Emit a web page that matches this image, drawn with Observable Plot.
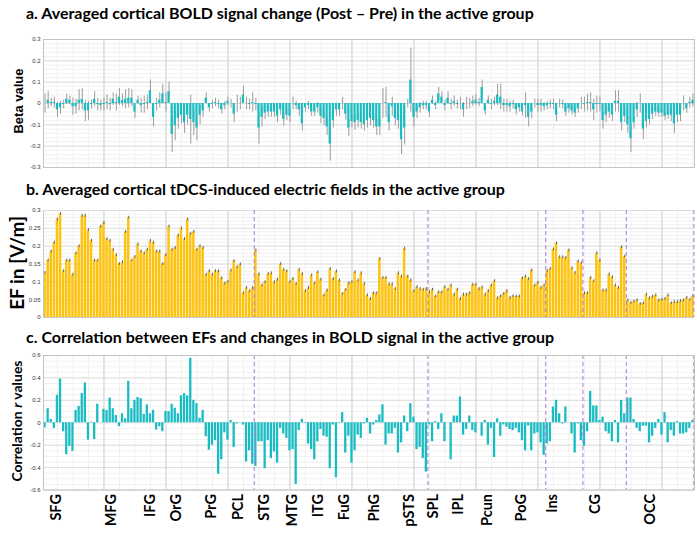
<!DOCTYPE html>
<html><head><meta charset="utf-8">
<script src="https://cdn.jsdelivr.net/npm/d3@7"></script>
<script src="https://cdn.jsdelivr.net/npm/@observablehq/plot@0.6"></script>
<style>
body{margin:0;background:#fff;width:697px;height:536px;position:relative;overflow:hidden;font-family:Lato,"Open Sans",sans-serif}
.title{position:absolute;left:26px;font-weight:700;font-size:16px;white-space:nowrap;color:#000;line-height:1}
.ylab{position:absolute;font-weight:700;white-space:nowrap;transform:translate(-50%,-50%) rotate(-90deg);color:#000;line-height:1}
.panel{position:absolute;left:0}
</style></head><body>
<script>
// ---------- data ----------
const betaChange = [
0.0,0.015,0.005,0.005,-0.03,-0.02,-0.005,0.02,0.015,-0.015,
-0.015,0.015,0.02,-0.035,-0.035,-0.005,0.02,-0.005,-0.01,-0.005,
0.005,-0.005,0.02,0.005,0.03,0.015,0.02,0.025,0.025,-0.04,
0.015,-0.01,-0.005,0.005,0.06,-0.065,-0.005,0.015,0.045,0.005,
0.055,-0.145,-0.105,-0.07,-0.055,-0.09,-0.055,-0.075,-0.09,-0.115,
-0.055,-0.035,0.025,-0.02,-0.005,0.005,-0.005,-0.03,-0.01,0.01,
0.0,-0.05,0.0,0.0,0.04,0.0,-0.005,0.005,-0.005,-0.115,
-0.065,-0.045,-0.04,-0.04,-0.04,-0.06,-0.03,-0.075,-0.055,-0.06,
0.0,-0.01,-0.03,-0.095,-0.02,-0.01,-0.04,-0.04,-0.02,-0.06,
-0.07,-0.11,-0.19,-0.08,-0.03,-0.03,0.0,-0.05,-0.115,-0.085,
-0.09,-0.08,-0.09,-0.1,-0.08,-0.07,-0.08,-0.11,-0.11,0.0,
0.005,-0.09,-0.015,-0.07,-0.08,-0.17,-0.115,0.0,0.11,-0.065,
-0.04,-0.02,-0.01,-0.01,-0.04,0.015,-0.01,0.045,0.03,-0.01,
0.025,-0.005,0.01,-0.005,0.0,-0.03,0.0,0.0,0.01,0.015,
0.005,0.075,-0.035,0.015,-0.005,0.01,0.04,0.03,-0.01,-0.01,
-0.015,-0.005,-0.03,-0.02,-0.04,-0.01,-0.065,-0.04,0.0,-0.01,
-0.01,-0.015,-0.01,-0.005,-0.005,-0.055,0.0,-0.005,-0.04,-0.025,
-0.035,-0.045,-0.025,0.0,-0.005,0.005,0.005,-0.03,-0.005,-0.005,
-0.08,-0.055,-0.04,-0.055,0.01,0.01,-0.09,-0.06,-0.1,-0.165,
-0.09,-0.03,0.0,-0.12,-0.085,-0.075,-0.05,-0.04,-0.045,-0.045,
-0.06,-0.055,-0.055,-0.095,-0.055,-0.055,0.0,-0.025,0.005,0.015];
const betaError = [
0.045,0.04,0.02,0.025,0.035,0.03,0.02,0.025,0.02,0.04,
0.035,0.05,0.05,0.05,0.045,0.02,0.035,0.03,0.025,0.03,
0.035,0.03,0.03,0.04,0.04,0.03,0.045,0.045,0.04,0.03,
0.02,0.035,0.04,0.035,0.05,0.045,0.03,0.035,0.045,0.045,
0.045,0.085,0.07,0.05,0.04,0.05,0.045,0.115,0.06,0.06,
0.045,0.03,0.025,0.02,0.02,0.02,0.02,0.02,0.02,0.02,
0.02,0.04,0.04,0.03,0.04,0.03,0.025,0.045,0.03,0.075,
0.045,0.03,0.025,0.025,0.025,0.03,0.025,0.03,0.025,0.03,
0.03,0.02,0.03,0.035,0.02,0.02,0.02,0.02,0.025,0.035,
0.035,0.04,0.08,0.035,0.03,0.03,0.03,0.03,0.04,0.03,
0.035,0.035,0.03,0.03,0.035,0.035,0.035,0.04,0.04,0.07,
0.07,0.04,0.045,0.035,0.04,0.07,0.08,0.02,0.15,0.045,
0.03,0.025,0.02,0.02,0.025,0.02,0.02,0.03,0.025,0.025,
0.03,0.025,0.025,0.02,0.03,0.035,0.03,0.025,0.025,0.025,
0.02,0.035,0.02,0.02,0.025,0.02,0.05,0.06,0.03,0.03,
0.025,0.02,0.025,0.02,0.02,0.06,0.045,0.03,0.02,0.03,
0.03,0.02,0.02,0.02,0.025,0.03,0.02,0.02,0.02,0.02,
0.02,0.02,0.02,0.03,0.035,0.04,0.045,0.05,0.04,0.035,
0.04,0.035,0.03,0.03,0.05,0.05,0.04,0.03,0.04,0.065,
0.03,0.035,0.045,0.05,0.03,0.025,0.025,0.02,0.02,0.02,
0.02,0.02,0.03,0.045,0.035,0.03,0.035,0.02,0.025,0.03];
const efValues = [
0.125,0.16,0.185,0.21,0.275,0.29,0.13,0.16,0.16,0.12,
0.18,0.2,0.285,0.285,0.245,0.215,0.16,0.16,0.255,0.265,
0.22,0.215,0.19,0.175,0.15,0.155,0.24,0.28,0.16,0.17,
0.205,0.185,0.18,0.19,0.215,0.21,0.185,0.185,0.15,0.175,
0.255,0.19,0.195,0.23,0.25,0.22,0.275,0.235,0.24,0.19,
0.2,0.195,0.12,0.13,0.12,0.13,0.13,0.11,0.095,0.1,
0.132,0.158,0.141,0.149,0.068,0.083,0.074,0.083,0.188,0.121,
0.090,0.099,0.122,0.124,0.099,0.106,0.150,0.134,0.130,0.099,
0.108,0.094,0.134,0.122,0.074,0.083,0.118,0.096,0.127,0.106,
0.062,0.076,0.136,0.108,0.129,0.104,0.066,0.078,0.096,0.099,
0.127,0.104,0.124,0.094,0.062,0.052,0.068,0.068,0.164,0.111,
0.111,0.093,0.093,0.080,0.124,0.115,0.193,0.115,0.104,0.074,
0.085,0.080,0.078,0.080,0.071,0.078,0.059,0.071,0.071,0.085,
0.078,0.090,0.064,0.078,0.052,0.064,0.064,0.068,0.092,0.092,
0.080,0.084,0.064,0.074,0.090,0.102,0.054,0.060,0.066,0.074,
0.055,0.060,0.059,0.059,0.110,0.115,0.108,0.132,0.090,0.097,
0.083,0.090,0.130,0.136,0.191,0.208,0.169,0.169,0.167,0.188,
0.138,0.125,0.157,0.152,0.068,0.068,0.111,0.102,0.180,0.160,
0.076,0.076,0.121,0.113,0.090,0.083,0.197,0.171,0.048,0.041,
0.045,0.048,0.038,0.040,0.064,0.054,0.059,0.062,0.048,0.050,
0.052,0.062,0.040,0.043,0.043,0.046,0.048,0.055,0.050,0.060];
const corrValues = [
-0.045,0.125,0.03,-0.05,0.245,0.39,-0.08,-0.285,-0.21,-0.255,
0.11,0.145,0.26,0.355,-0.155,0.005,-0.15,0.165,0.0,0.12,
0.11,0.22,0.125,0.065,-0.035,0.08,0.035,0.37,0.125,0.2,
0.225,0.215,0.075,0.16,0.08,0.11,-0.065,-0.035,-0.08,0.10,
0.10,0.165,0.13,0.08,0.24,0.26,0.24,0.575,0.2,0.17,
0.04,0.11,-0.125,-0.245,-0.2,-0.16,-0.46,-0.33,-0.09,-0.155,
0.02,-0.22,-0.01,0.0,-0.02,-0.35,-0.25,-0.37,-0.39,-0.17,
-0.17,-0.41,-0.16,-0.32,-0.26,-0.36,-0.05,-0.10,-0.14,-0.25,
-0.24,-0.55,-0.07,0.03,-0.005,-0.19,-0.24,-0.33,-0.17,-0.06,
-0.12,-0.13,-0.41,-0.02,-0.49,-0.005,0.09,-0.27,-0.12,-0.36,
-0.25,-0.11,-0.14,-0.01,0.04,-0.10,-0.02,0.02,0.07,0.16,
-0.2,-0.1,-0.1,-0.05,-0.27,-0.18,0.06,-0.08,0.17,0.05,
-0.24,-0.22,-0.32,-0.44,-0.02,-0.17,0.01,-0.06,0.08,-0.17,
0.0,-0.33,0.06,0.06,0.23,-0.11,-0.06,0.06,-0.07,-0.09,
0.0,-0.12,0.02,-0.2,-0.05,-0.31,0.035,-0.12,-0.02,-0.04,
-0.06,-0.07,-0.05,-0.09,-0.16,-0.25,-0.03,-0.25,-0.1,-0.09,
-0.18,-0.29,-0.19,-0.17,0.14,0.20,0.08,-0.01,0.14,0.0,
-0.10,-0.27,-0.01,-0.16,-0.21,-0.08,0.28,0.15,0.15,0.02,
0.05,-0.08,-0.10,-0.17,0.02,-0.18,0.2,0.08,0.22,0.22,
0.03,-0.05,-0.08,-0.03,-0.03,-0.18,-0.12,-0.05,0.03,-0.11,
0.09,-0.18,-0.07,-0.12,0.01,-0.1,-0.1,-0.09,-0.05,0.02];
const gyrusLabels = ["SFG","MFG","IFG","OrG","PrG","PCL","STG","MTG","ITG","FuG","PhG","pSTS","SPL","IPL","Pcun","PoG","Ins","CG","OCC"];
const gyrusLabelPos = [6.0,24.0,36.6,45.0,56.0,64.7,73.4,82.4,90.8,99.2,108.6,119.9,127.9,135.7,145.3,156.0,166.3,179.9,197.6];
const lobeBoundaries = [68.5,124.5,162.5,174.5,188.5,210.3];
const ticksA = [-0.3,-0.2,-0.1,0,0.1,0.2,0.3];
const ticksB = [0,0.05,0.1,0.15,0.2,0.25,0.3];
const ticksC = [-0.6,-0.4,-0.2,0,0.2,0.4,0.6];
const xMajor = [20,40,60,80,100,120,140,160,180,200];

// ---------- layout ----------
const W = 697, ML = 43, MR = 3;
const xDomain = [0.5, 210.5];
const regions = d3.range(1, betaChange.length + 1);
const xMinor = d3.range(5, 211, 5);
const teal = "#19bcc2", gold = "#fdc30f", dashCol = "#b98bd8";
const fmt = d => String(d);

function grid(minorY, majorY) {
  return [
    Plot.ruleY(minorY, {stroke: "#f1f1f1"}),
    Plot.ruleX(xMinor, {stroke: "#f1f1f1"}),
    Plot.ruleY(majorY, {stroke: "#dedede"}),
    Plot.ruleX(xMajor, {stroke: "#d0d0d0"})
  ];
}
function yAxis(ticks) {
  return Plot.axisY(ticks, {tickSize: 0, tickPadding: 3, tickFormat: fmt, fontSize: 6, fill: "#333", label: null, fontFamily: "Liberation Sans"});
}
function place(el, top) { el.classList.add("panel"); el.style.top = top + "px"; document.body.appendChild(el); }
function addDiv(cls, html, css) { const d = document.createElement("div"); d.className = cls; d.innerHTML = html; Object.assign(d.style, css); document.body.appendChild(d); }

// Panel a
const dataA = regions.map((r, i) => ({r, v: betaChange[i], e: betaError[i]}));
place(Plot.plot({
  width: W, height: 145, marginLeft: ML, marginRight: MR, marginTop: 9, marginBottom: 8,
  x: {domain: xDomain, axis: null}, y: {domain: [-0.3, 0.3], axis: null},
  marks: [
    ...grid(d3.range(-0.3, 0.301, 0.02), ticksA),
    Plot.ruleX(dataA, {x: "r", y1: d => d.v - d.e, y2: d => d.v + d.e, stroke: "#9c9c9c", strokeWidth: 1}),
    Plot.rectY(dataA, {x1: d => d.r - 0.5, x2: d => d.r + 0.5, y1: 0, y2: "v", fill: teal, insetLeft: 0.45, insetRight: 0.45}),
    yAxis(ticksA),
    Plot.frame({stroke: "#c4c4c4"})
  ]
}), 30);

// Panel b
const dataB = regions.map((r, i) => ({r, v: efValues[i]}));
place(Plot.plot({
  width: W, height: 125, marginLeft: ML, marginRight: MR, marginTop: 10, marginBottom: 8,
  x: {domain: xDomain, axis: null}, y: {domain: [0, 0.3], axis: null},
  marks: [
    ...grid(d3.range(0, 0.301, 0.01), ticksB),
    Plot.rectY(dataB, {x1: d => d.r - 0.5, x2: d => d.r + 0.5, y1: 0, y2: "v", fill: gold, insetLeft: 0.3, insetRight: 0.3}),
    Plot.ruleX(dataB, {x: "r", y1: d => d.v - 0.004, y2: d => d.v + 0.004, stroke: "#666", strokeWidth: 1}),
    Plot.ruleX(lobeBoundaries, {stroke: dashCol, strokeDasharray: "4,3", strokeWidth: 1.2}),
    Plot.ruleX([xDomain[0]], {stroke: "#c8c8c8"}),
    Plot.ruleY([0], {stroke: "#c8c8c8"}),
    yAxis(ticksB)
  ]
}), 200);

// Panel c
const dataC = regions.map((r, i) => ({r, v: corrValues[i]}));
place(Plot.plot({
  width: W, height: 190, marginLeft: ML, marginRight: MR, marginTop: 10, marginBottom: 45.5,
  x: {domain: xDomain, axis: null}, y: {domain: [-0.6, 0.6], axis: null},
  marks: [
    ...grid(d3.range(-0.6, 0.601, 0.05), ticksC),
    Plot.rectY(dataC, {x1: d => d.r - 0.5, x2: d => d.r + 0.5, y1: 0, y2: "v", fill: teal, insetLeft: 0.4, insetRight: 0.4}),
    Plot.ruleX(lobeBoundaries, {stroke: dashCol, strokeDasharray: "4,3", strokeWidth: 1.2}),
    yAxis(ticksC),
    Plot.frame({stroke: "#c4c4c4"}),
    Plot.text(gyrusLabels, {x: (d, i) => gyrusLabelPos[i], text: d => d, frameAnchor: "bottom", dy: 4, rotate: -90, textAnchor: "end", fontWeight: "bold", fontSize: 14.5, fill: "#000", fontFamily: "Lato"})
  ]
}), 345);

// titles & axis labels
addDiv("title", "a. Averaged cortical BOLD signal change (Post – Pre) in the active group", {top: "5px"});
addDiv("title", "b. Averaged cortical tDCS-induced electric fields in the active group", {top: "181px"});
addDiv("title", "c. Correlation between EFs and changes in BOLD signal in the active group", {top: "329px"});
addDiv("ylab", "Beta value", {left: "18px", top: "101px", fontFamily: "'Liberation Sans',Arial,sans-serif", fontSize: "13px"});
addDiv("ylab", "EF in [V/m]", {left: "16px", top: "263px", fontSize: "19px"});
addDiv("ylab", "Correlation <i>r</i> values", {left: "17px", top: "421px", fontSize: "14px"});
</script>
</body></html>
